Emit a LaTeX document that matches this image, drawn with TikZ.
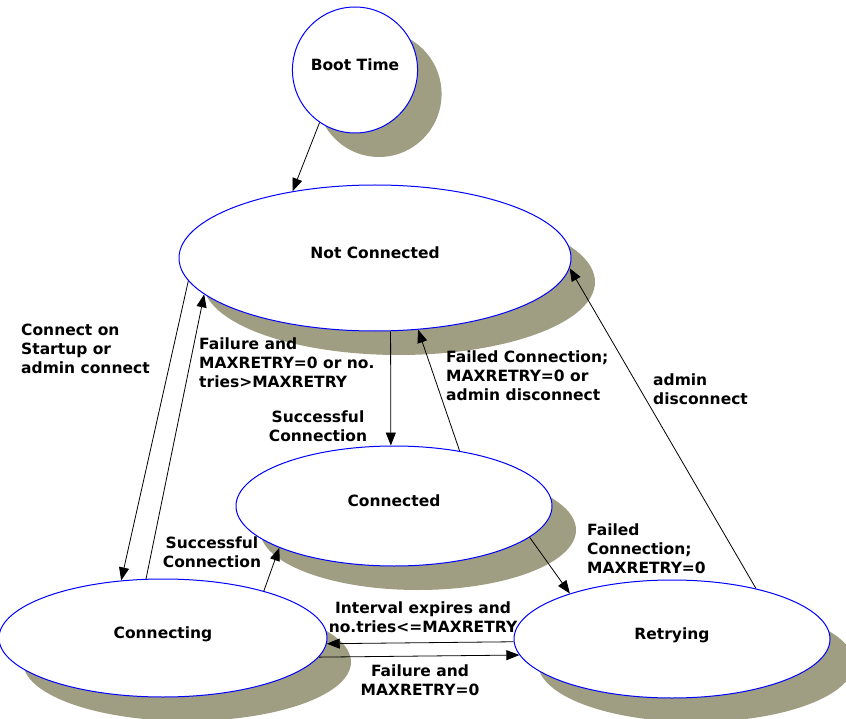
\documentclass[tikz,border=0pt]{standalone}
\usepackage{fontspec}
\setmainfont{DejaVu Sans}
\usepackage{tikz}
\usetikzlibrary{shapes.geometric, arrows.meta, shadows}
\definecolor{shadowgray}{RGB}{160,158,130}
\tikzstyle{state} = [ellipse, draw=blue, line width=1pt, fill=white, inner sep=0pt, text depth=10pt, font=\bfseries\fontsize{15.5}{19}\selectfont, drop shadow={shadow xshift=24pt, shadow yshift=-24pt, fill=shadowgray, opacity=1}]
\tikzstyle{lbl} = [inner sep=0pt, font=\bfseries\fontsize{15.5}{19}\selectfont]
\tikzstyle{trans} = [line width=0.8pt, -{Triangle[length=13pt,width=10pt]}]

\begin{document}
\begin{tikzpicture}[x=1pt, y=-1pt]
  \useasboundingbox (0,0) rectangle (846,719);

  \node (boot) [state, minimum width=124pt, minimum height=126pt] at (355,70) {Boot Time};
  \node (notconn) [state, minimum width=392pt, minimum height=146pt] at (375,258) {Not Connected};
  \node (conn) [state, minimum width=316pt, minimum height=120pt] at (394,506) {Connected};
  \node (connecting) [state, minimum width=328pt, minimum height=118pt] at (163,638) {Connecting};
  \node (retrying) [state, minimum width=316pt, minimum height=118pt] at (672,639) {Retrying};

  \node (lstartup) [lbl, anchor=north west, align=left] at (21,324) {Connect on\\Startup or\\admin connect};
  \node (lfailure) [lbl, anchor=north west, align=left] at (199,338) {Failure and\\MAXRETRY=0 or no.\\tries>MAXRETRY};
  \node (lsuccess) [lbl, anchor=north, align=center] at (318,411) {Successful\\Connection};
  \node (lfailed) [lbl, anchor=north west, align=left] at (446,351) {Failed Connection;\\MAXRETRY=0 or\\admin disconnect};
  \node (ladmin) [lbl, anchor=north west, align=left] at (653,374) {admin\\disconnect};
  \node (lretry) [lbl, anchor=north west, align=left] at (587,524) {Failed\\Connection;\\MAXRETRY=0};
  \node (lsuccess2) [lbl, anchor=north, align=center] at (212,537) {Successful\\Connection};
  \node (linterval) [lbl, anchor=north, align=center] at (423,602) {Interval expires and\\no.tries<=MAXRETRY};
  \node (lfailure2) [lbl, anchor=north, align=center] at (420,665) {Failure and\\MAXRETRY=0};

  \draw [trans] (boot.236) -- (notconn.141);
  \draw [trans] (notconn.187) -- (connecting.126);
  \draw [trans] (connecting.106) -- (notconn.192);
  \draw [trans] (notconn.282) -- (conn.93);
  \draw [trans] (conn.40) -- (notconn.301);
  \draw [trans] (retrying.31) -- (notconn.357);
  \draw [trans] (conn.347) -- (retrying.156);
  \draw [trans] (connecting.25) -- (conn.200);
  \draw [trans] (retrying.181.4) -- (connecting.358.3);
  \draw [trans] (connecting.353.5) -- (retrying.186.3);
\end{tikzpicture}
\end{document}
